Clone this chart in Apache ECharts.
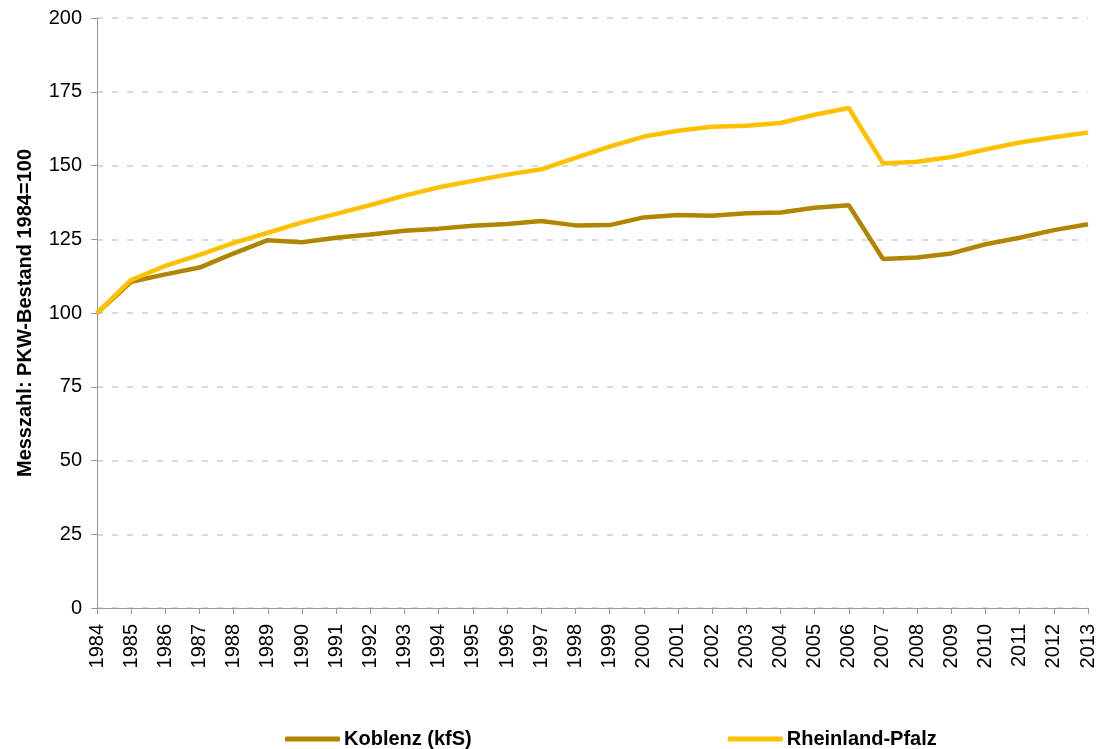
<!DOCTYPE html>
<html>
<head>
<meta charset="utf-8">
<script src="https://cdn.jsdelivr.net/npm/echarts@6/dist/echarts.min.js"></script>
<style>
  html, body { margin: 0; padding: 0; background: #fff; }
  #chart { width: 1101px; height: 749px; }
</style>
</head>
<body>
<div id="chart"></div>
<script>
  // Jahre
  var years = ['1984', '1985', '1986', '1987', '1988', '1989', '1990', '1991', '1992', '1993',
    '1994', '1995', '1996', '1997', '1998', '1999', '2000', '2001', '2002', '2003',
    '2004', '2005', '2006', '2007', '2008', '2009', '2010', '2011', '2012', '2013'];

  // Messzahl PKW-Bestand, 1984 = 100
  var koblenz = [100, 110.6, 113.1, 115.4, 120.2, 124.7, 124.0, 125.5, 126.6, 127.9,
    128.6, 129.6, 130.2, 131.2, 129.7, 129.8, 132.4, 133.2, 133.0, 133.8,
    134.1, 135.7, 136.5, 118.3, 118.8, 120.2, 123.3, 125.5, 128.1, 130.1];
  var rlp = [100, 111.2, 116.0, 119.7, 123.8, 127.2, 130.7, 133.6, 136.6, 139.8,
    142.6, 144.8, 146.9, 148.7, 152.6, 156.4, 159.8, 161.8, 163.1, 163.5,
    164.4, 167.2, 169.5, 150.7, 151.3, 152.9, 155.4, 157.8, 159.6, 161.2];

  var yTicks = [0, 25, 50, 75, 100, 125, 150, 175, 200];

  var font = 'Liberation Sans, Arial, sans-serif';
  var chart = echarts.init(document.getElementById('chart'));

  chart.setOption({
    animation: false,
    grid: {
      left: 97,
      right: 13,
      top: 18,
      bottom: 141
    },
    legend: {
      left: 280,
      top: 724,
      itemGap: 256,
      itemWidth: 55,
      itemHeight: 5,
      textStyle: {
        fontFamily: font,
        fontSize: 20,
        fontWeight: 'bold',
        color: '#000',
        padding: [0, 0, 0, -1]
      },
      data: [
        {name: 'Koblenz (kfS)', icon: 'roundRect'},
        {name: 'Rheinland-Pfalz', icon: 'roundRect'}
      ]
    },
    xAxis: {
      type: 'category',
      data: years,
      boundaryGap: false,
      axisLine: {lineStyle: {color: '#999', width: 1}},
      axisTick: {show: true, alignWithLabel: true, length: 6, lineStyle: {color: '#999'}},
      axisLabel: {
        rotate: 90,
        interval: 0,
        margin: 16,
        fontFamily: font,
        fontSize: 20,
        color: '#000'
      },
      splitLine: {show: false}
    },
    yAxis: {
      type: 'value',
      min: yTicks[0],
      max: yTicks[yTicks.length - 1],
      interval: 25,
      name: 'Messzahl: PKW-Bestand 1984=100',
      nameLocation: 'middle',
      nameGap: 62,
      nameTextStyle: {
        fontFamily: font,
        fontSize: 20,
        fontWeight: 'bold',
        color: '#000'
      },
      axisLine: {show: true, lineStyle: {color: '#999', width: 1}},
      axisTick: {show: true, length: 6, lineStyle: {color: '#999'}},
      axisLabel: {
        margin: 15,
        fontFamily: font,
        fontSize: 20,
        color: '#000'
      },
      splitLine: {
        show: true,
        lineStyle: {color: '#d9d9d9', width: 2, type: [6, 9]}
      }
    },
    series: [
      {
        name: 'Koblenz (kfS)',
        type: 'line',
        data: koblenz,
        symbol: 'none',
        itemStyle: {color: '#b08600'},
        lineStyle: {color: '#b08600', width: 4.5}
      },
      {
        name: 'Rheinland-Pfalz',
        type: 'line',
        data: rlp,
        symbol: 'none',
        itemStyle: {color: '#ffc000'},
        lineStyle: {color: '#ffc000', width: 4.5}
      }
    ]
  });
</script>
</body>
</html>
